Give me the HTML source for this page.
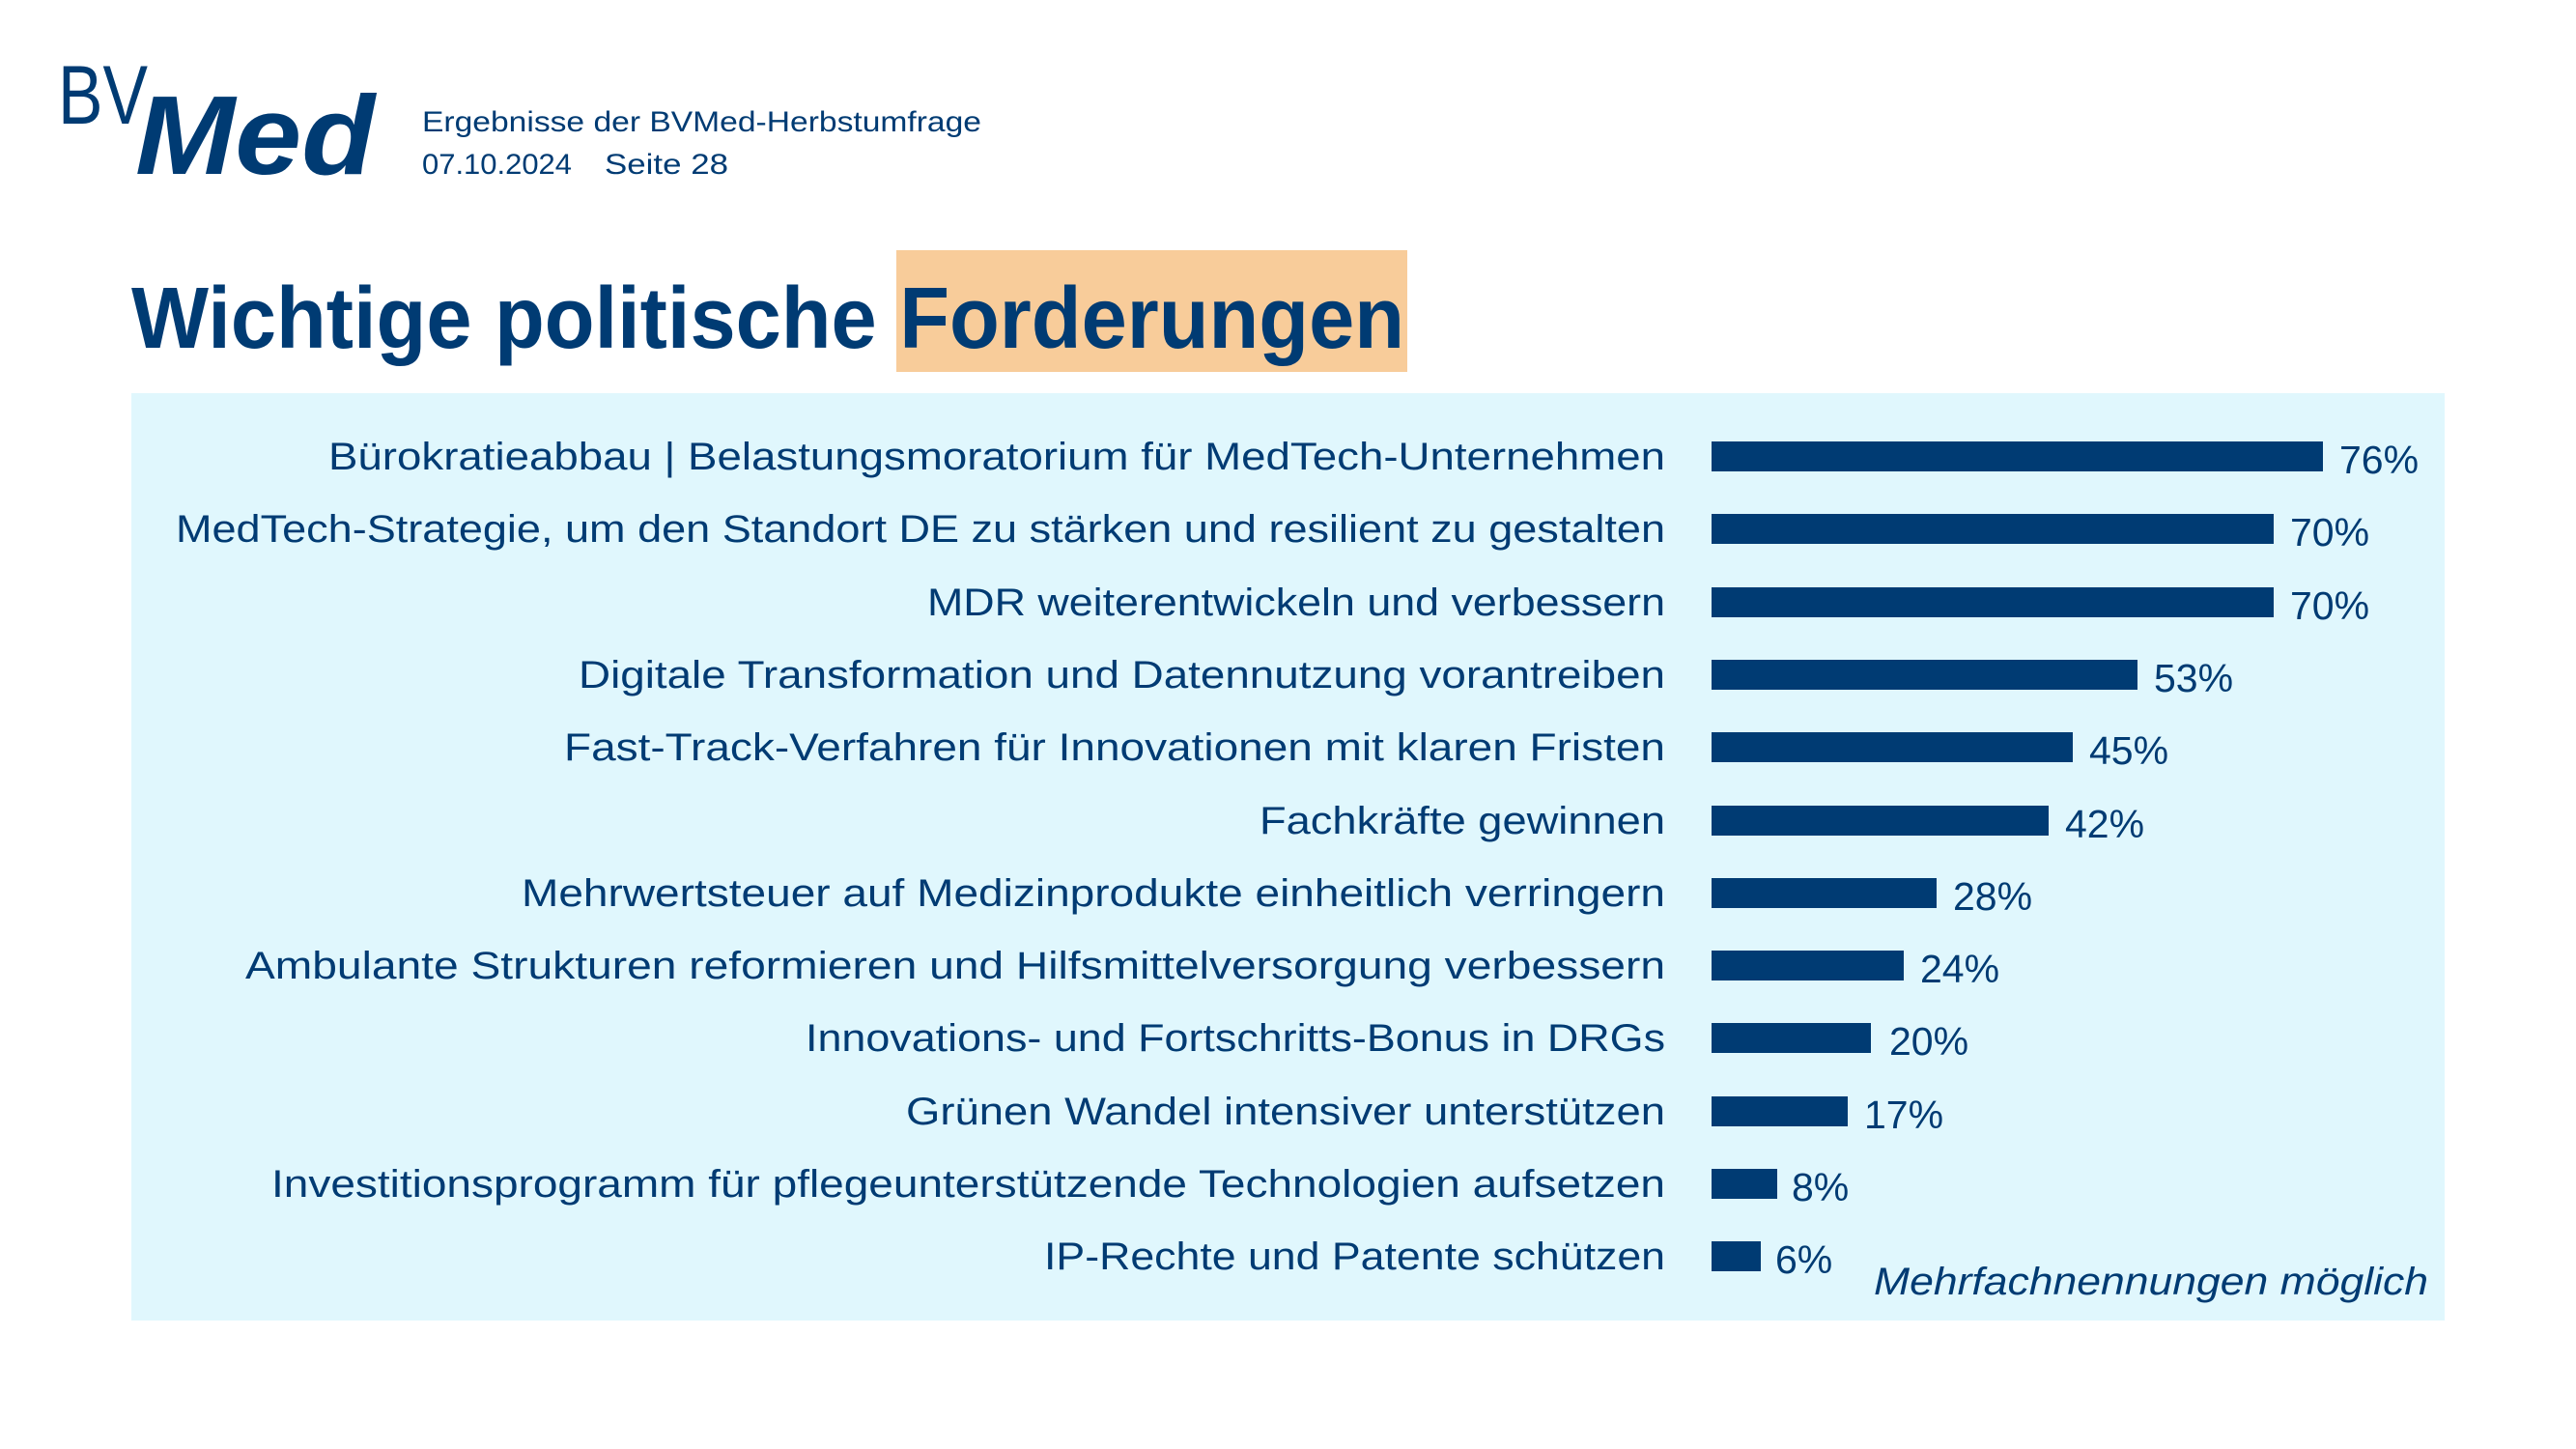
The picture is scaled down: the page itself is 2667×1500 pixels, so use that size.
<!DOCTYPE html>
<html><head><meta charset="utf-8"><style>
html,body{margin:0;padding:0;background:#fff;}
svg{display:block;}
text{font-family:"Liberation Sans",sans-serif;fill:#003b73;}
</style></head><body>
<svg width="2667" height="1500" viewBox="0 0 2667 1500" xmlns="http://www.w3.org/2000/svg">
<rect width="2667" height="1500" fill="#fff"/>
<!-- logo -->
<text x="60" y="128" font-size="86" textLength="93" lengthAdjust="spacingAndGlyphs">BV</text>
<text x="140" y="180" font-size="116" font-weight="bold" font-style="italic" textLength="248" lengthAdjust="spacingAndGlyphs">Med</text>
<text x="437" y="136" font-size="30" textLength="579" lengthAdjust="spacingAndGlyphs">Ergebnisse der BVMed-Herbstumfrage</text>
<text x="437" y="180" font-size="30" textLength="155" lengthAdjust="spacingAndGlyphs">07.10.2024</text>
<text x="626" y="180" font-size="30" textLength="128" lengthAdjust="spacingAndGlyphs">Seite 28</text>
<!-- title -->
<rect x="928" y="259" width="529" height="126" fill="#f8cc9a"/>
<text x="136" y="360" font-size="90" font-weight="bold" textLength="1318" lengthAdjust="spacingAndGlyphs">Wichtige politische Forderungen</text>
<!-- panel -->
<rect x="136" y="407" width="2395" height="960" fill="#e0f7fd"/>
<g font-size="40" text-anchor="end">
<text x="1724" y="486" textLength="1384" lengthAdjust="spacingAndGlyphs">Bürokratieabbau | Belastungsmoratorium für MedTech-Unternehmen</text>
<text x="1724" y="561" textLength="1542" lengthAdjust="spacingAndGlyphs">MedTech-Strategie, um den Standort DE zu stärken und resilient zu gestalten</text>
<text x="1724" y="637" textLength="764" lengthAdjust="spacingAndGlyphs">MDR weiterentwickeln und verbessern</text>
<text x="1724" y="712" textLength="1125" lengthAdjust="spacingAndGlyphs">Digitale Transformation und Datennutzung vorantreiben</text>
<text x="1724" y="787" textLength="1140" lengthAdjust="spacingAndGlyphs">Fast-Track-Verfahren für Innovationen mit klaren Fristen</text>
<text x="1724" y="863" textLength="420" lengthAdjust="spacingAndGlyphs">Fachkräfte gewinnen</text>
<text x="1724" y="938" textLength="1184" lengthAdjust="spacingAndGlyphs">Mehrwertsteuer auf Medizinprodukte einheitlich verringern</text>
<text x="1724" y="1013" textLength="1470" lengthAdjust="spacingAndGlyphs">Ambulante Strukturen reformieren und Hilfsmittelversorgung verbessern</text>
<text x="1724" y="1088" textLength="890" lengthAdjust="spacingAndGlyphs">Innovations- und Fortschritts-Bonus in DRGs</text>
<text x="1724" y="1164" textLength="786" lengthAdjust="spacingAndGlyphs">Grünen Wandel intensiver unterstützen</text>
<text x="1724" y="1239" textLength="1443" lengthAdjust="spacingAndGlyphs">Investitionsprogramm für pflegeunterstützende Technologien aufsetzen</text>
<text x="1724" y="1314" textLength="643" lengthAdjust="spacingAndGlyphs">IP-Rechte und Patente schützen</text>
</g>
<g fill="#003b73">
<rect x="1772" y="457" width="633" height="31"/>
<rect x="1772" y="532" width="582" height="31"/>
<rect x="1772" y="608" width="582" height="31"/>
<rect x="1772" y="683" width="441" height="31"/>
<rect x="1772" y="758" width="374" height="31"/>
<rect x="1772" y="834" width="349" height="31"/>
<rect x="1772" y="909" width="233" height="31"/>
<rect x="1772" y="984" width="199" height="31"/>
<rect x="1772" y="1059" width="165" height="31"/>
<rect x="1772" y="1135" width="141" height="31"/>
<rect x="1772" y="1210" width="68" height="31"/>
<rect x="1772" y="1285" width="51" height="31"/>
</g>
<g font-size="41">
<text x="2422" y="490">76%</text>
<text x="2371" y="565">70%</text>
<text x="2371" y="641">70%</text>
<text x="2230" y="716">53%</text>
<text x="2163" y="791">45%</text>
<text x="2138" y="867">42%</text>
<text x="2022" y="942">28%</text>
<text x="1988" y="1017">24%</text>
<text x="1956" y="1092">20%</text>
<text x="1930" y="1168">17%</text>
<text x="1855" y="1243">8%</text>
<text x="1838" y="1318">6%</text>
</g>
<text x="1940" y="1340" font-size="40" font-style="italic" textLength="574" lengthAdjust="spacingAndGlyphs">Mehrfachnennungen möglich</text>
</svg>
</body></html>
